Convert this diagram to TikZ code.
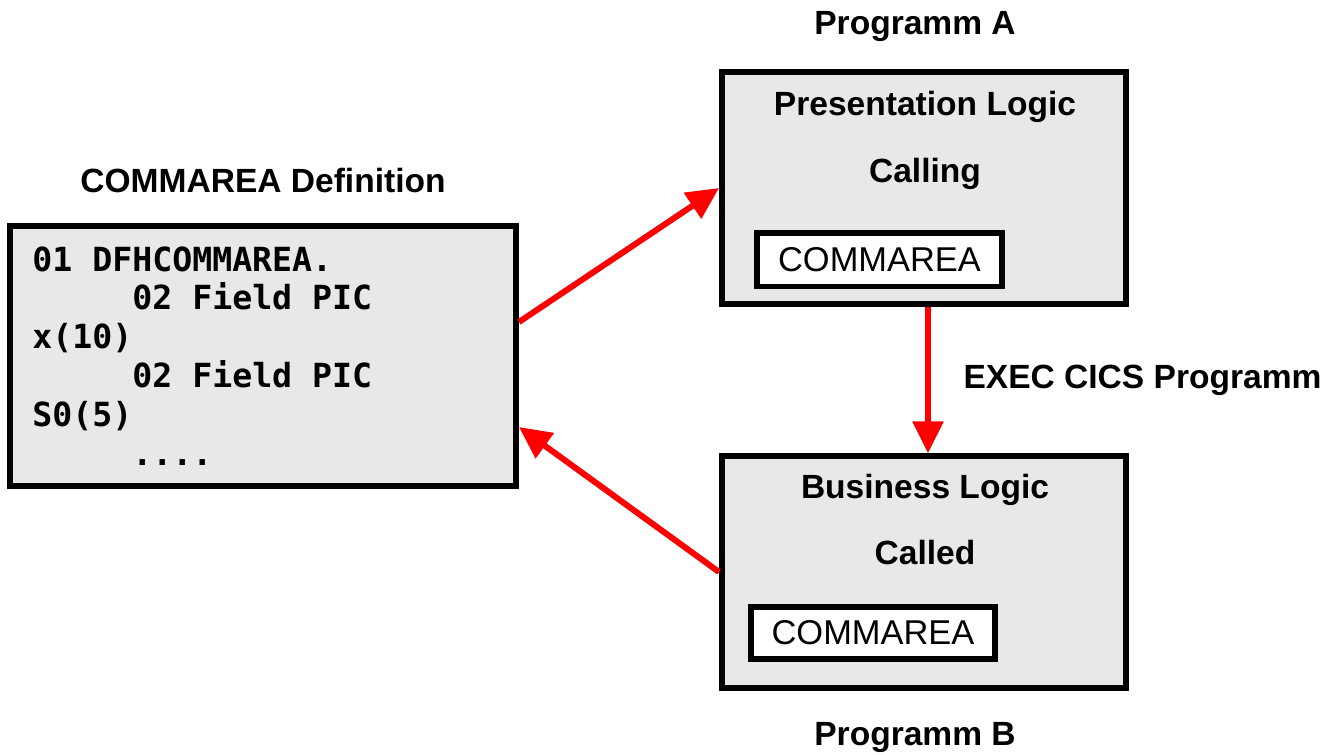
\documentclass[tikz,border=0pt]{standalone}
\usepackage{fontspec}
\setmainfont{Liberation Sans}
\newfontfamily\codefont{DejaVu Sans Mono}
\usetikzlibrary{positioning,arrows.meta}
\definecolor{boxgray}{RGB}{232,232,232}
\newcommand{\indentcode}{\hphantom{00000}}
\tikzstyle{progbox} = [rectangle, draw=black, line width=0.12cm, fill=boxgray, minimum width=8.08cm, minimum height=4.63cm]
\tikzstyle{areabox} = [rectangle, draw=black, line width=0.12cm, fill=white, minimum width=4.92cm, minimum height=1.08cm, font=\fontsize{19.6}{22}\selectfont]
\tikzstyle{title} = [font=\fontsize{19.1}{22}\selectfont\bfseries, text=black, inner sep=0pt]
\tikzstyle{arrow} = [red, line width=0.12cm, -{Triangle[length=0.64cm, width=0.6cm]}]

\begin{document}
\begin{tikzpicture}[x=0.02cm, y=-0.02cm, node distance=1cm]
\useasboundingbox (0,0) rectangle (1332,754);

\node (defbox) [progbox, minimum width=10.12cm, minimum height=5.2cm] at (263,356) {};
\node (progA) [progbox] at (924,188) {};
\node (progB) [progbox] at (924,572) {};
\node (commA) [areabox] at (879.5,259.5) {COMMAREA};
\node (commB) [areabox, minimum width=4.88cm, minimum height=1.04cm] at (873,633) {COMMAREA};

\node (code) [anchor=north west, inner sep=0pt, align=left, font=\codefont\bfseries\fontsize{18.9}{22.1}\selectfont] at (32,246) {01 DFHCOMMAREA.\\\indentcode 02 Field PIC\\x(10)\\\indentcode 02 Field PIC\\S0(5)\\\indentcode ....};

\node (defname) [title, above=0.6cm of defbox] {COMMAREA Definition};
\node (nameA) [title, above=0.54cm of progA, xshift=-0.18cm] {Programm A};
\node (nameB) [title, below=0.62cm of progB, xshift=-0.18cm] {Programm B};

\node (presA) [title, anchor=base] at (925,115) {Presentation Logic};
\node (callA) [title, anchor=base] at (925,182) {Calling};
\node (busB) [title, anchor=base] at (925,498) {Business Logic};
\node (callB) [title, anchor=base] at (925,564) {Called};

\draw [arrow] ([yshift=0.68cm]defbox.east) -- (progA.west);
\draw [arrow] ([xshift=0.08cm]progA.south) -- node[title, right=0.65cm] {EXEC CICS Programm} ([xshift=0.08cm]progB.north);
\draw [arrow] (progB.west) -- ([yshift=-1.42cm]defbox.east);
\end{tikzpicture}
\end{document}
